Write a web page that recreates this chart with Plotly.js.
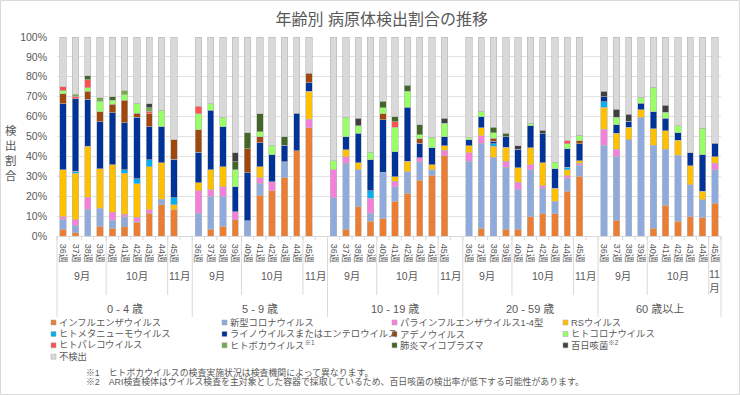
<!DOCTYPE html>
<html><head><meta charset="utf-8">
<script src="https://cdn.plot.ly/plotly-3.0.1.min.js"></script>
<style>html,body{margin:0;padding:0;background:#fff}#chart{width:740px;height:395px}</style>
</head><body><div id="chart"></div>
<script>
// ---------- categories ----------
const ageGroups = ['0 - 4 歳', '5 - 9 歳', '10 - 19 歳', '20 - 59 歳', '60 歳以上'];
const weeks = ['36週','37週','38週','39週','40週','41週','42週','43週','44週','45週'];
const monthLabels = ['9月', '10月', '11月'];
const yTickLabels = ['0%','10%','20%','30%','40%','50%','60%','70%','80%','90%','100%'];
const seriesNames = ['インフルエンザウイルス','新型コロナウイルス','パラインフルエンザウイルス1-4型','RSウイルス',
  'ヒトメタニューモウイルス','ライノウイルスまたはエンテロウイルス','アデノウイルス','ヒトコロナウイルス',
  'ヒトパレコウイルス','ヒトボカウイルス※1','肺炎マイコプラズマ','百日咳菌※2','不検出'];
const seriesColors = ['#ED7D31','#8FAADC','#F77FDC','#FFC000','#00B0F0','#003399','#9E480E','#99FF66',
  '#FF5050','#70AD47','#436629','#404040','#D9D9D9'];
const legendLabels = ['インフルエンザウイルス','新型コロナウイルス','パラインフルエンザウイルス1-4型','RSウイルス',
  'ヒトメタニューモウイルス','ライノウイルスまたはエンテロウイルス','アデノウイルス','ヒトコロナウイルス',
  'ヒトパレコウイルス','ヒトボカウイルス<sup>※1</sup>','肺炎マイコプラズマ','百日咳菌<sup>※2</sup>','不検出'];
const footnotes = ['※1　ヒトボカウイルスの検査実施状況は検査機関によって異なります。',
  '※2　ARI検査検体はウイルス検査を主対象とした容器で採取しているため、百日咳菌の検出率が低下する可能性があります。'];

// ---------- values (%), 10 weeks per age group, in ageGroups order ----------
const influenza = [3.4,1.6,0,4.9,4.0,4.7,6.8,11.4,15.6,13.1,
  0,3.4,4.9,8.2,0,20.5,22.8,29.2,42.8,54.4,
  0,3.4,14.8,7.4,8.6,17.4,21.5,27.9,30.5,40.4,
  0,3.9,0,3.4,3.4,9.6,11.1,11.1,22.5,30.0,
  0,7.9,0,0,4.0,15.4,7.4,9.6,9.1,16.4];
const covid = [5.0,3.8,13.5,8.7,4.0,5.0,0.3,0,2.9,0,
  11.4,16.6,15.1,0,7.6,6.0,0,8.2,0,0,
  19.1,33.2,18.4,4.0,23.4,7.4,10.9,9.3,2.7,0,
  37.6,42.7,39.6,31.2,20.1,23.6,12.9,6.3,6.5,5.6,
  45.6,32.0,48.3,59.7,41.6,28.2,33.2,16.1,9.0,16.8];
const parainfluenza = [1.3,2.8,6.0,0.3,3.9,1.3,2.4,1.9,0,0,
  11.4,3.2,4.8,4.0,0,2.7,4.4,0,0,4.3,
  14.1,3.3,0,7.6,0,2.7,0,2.1,0,2.6,
  4.3,3.9,0,3.0,3.5,2.7,1.3,0,1.4,1.0,
  8.1,3.7,0,0,0,0,0,0,0,3.4];
const rsv = [23.5,23.3,25.5,19.8,24.0,20.5,16.8,21.6,18.2,2.7,
  3.9,10.0,10.1,0,0,5.7,0,0,0,14.0,
  0,3.4,3.7,0,0,2.4,5.2,0,2.5,2.3,
  3.4,3.9,5.4,7.0,7.2,8.4,11.6,6.6,2.8,1.3,
  10.9,8.1,6.4,3.7,8.4,9.3,7.4,9.5,4.4,3.2];
const hmpv = [0,1.0,0,0,0,1.7,2.4,3.4,0,3.3,
  0,0,0,0,0,0,0,0,0,0,
  0,0,0,3.8,0,0,0,0,0,0,
  0,0,1.3,0,0,0,0,0,1.4,0,
  2.8,0,0,0,0,0,0,0,0,0];
const rhinoEntero = [33.2,36.5,23.8,23.8,26.0,23.6,31.0,16.5,18.3,19.5,
  15.4,30.1,20.1,12.6,24.1,11.9,13.6,8.2,18.9,4.3,
  0,6.5,14.8,15.5,26.4,12.5,27.2,7.3,8.6,4.5,
  3.0,5.5,1.4,5.2,9.3,11.2,14.4,9.7,9.2,8.4,
  2.6,4.3,3.0,3.2,8.4,6.3,3.8,6.6,18.4,6.8];
const adeno = [5.1,0,4.0,5.0,4.2,11.3,2.1,6.6,0,9.7,
  11.4,0,0,0,12.1,3.0,0,0,0,4.9,
  0,0,0,0,3.0,0,0,2.2,0,0,
  0,0,1.3,0,0,0,0,0,0,1.5,
  0,0,0,0,0,0,0,0,0,0];
const hcov = [1.5,0,1.8,5.1,2.0,3.0,5.0,0,8.1,0,
  7.9,3.1,4.7,8.4,0,2.7,4.5,0,0,0,
  4.7,9.9,3.7,3.8,3.0,12.3,8.0,2.2,5.4,6.9,
  1.2,2.9,2.8,0,0,1.2,0,3.4,2.5,2.9,
  0,3.7,0,3.2,12.4,3.0,3.6,0,13.3,0];
const parecho = [2.0,1.2,4.0,0,0,0,0,1.3,0,0,
  3.9,0,0,0,0,0,0,0,0,0,
  0,0,0,0,0,2.7,0,0,0,0,
  0,0,0,0,0,0,0,0,1.5,0,
  0,0,0,0,0,0,0,0,0,0];
const boca = [0,1.1,0,1.8,0,1.8,0,1.7,0,0,
  0,0,0,0,0,0,0,0,0,0,
  0,0,0,0,0,0,0,0,0,0,
  0,0,0,0,0,0,0,0,0,0,
  0,0,0,0,0,0,0,0,0,0];
const mycoplasma = [0,0,1.9,0,2.0,0,0,0,0,0,
  0,0,0,4.2,8.0,8.9,0,4.2,0,0,
  0,0,0,0,3.2,2.5,2.9,4.9,0,0,
  0,0,2.9,1.9,0,0,0,0,0,0,
  0,0,0,0,0,0,0,0,0,0];
const pertussis = [0,0,0,0,0,0,0,2.1,0,0,
  0,0,0,4.4,0,0,0,0,0,0,
  0,0,3.7,0,0,0,0,0,0,2.4,
  0,0,0,0,1.8,0,1.9,0,0,0,
  2.8,4.1,3.4,0,0,3.4,0,0,0,0];
const notDetected = [25.0,28.7,19.5,30.6,29.9,27.1,33.2,33.5,36.9,51.7,
  34.7,33.6,40.3,58.2,48.2,38.6,54.7,50.2,38.3,18.1,
  62.1,40.3,40.9,57.9,32.4,40.1,24.3,44.1,50.3,40.9,
  50.5,37.2,45.3,48.3,54.7,43.3,46.8,62.9,52.2,49.3,
  27.2,36.2,38.9,30.2,25.2,34.4,44.6,58.2,45.8,53.4];

// ---------- build ----------
const seriesValues = [influenza, covid, parainfluenza, rsv, hmpv, rhinoEntero, adeno, hcov,
  parecho, boca, mycoplasma, pertussis, notDetected];
const SLOTS_PER_GROUP = weeks.length + 1;          // one empty slot after each age group
const nSlots = ageGroups.length * SLOTS_PER_GROUP - 1;
const xPos = [], tickText = [];
ageGroups.forEach((g, gi) => weeks.forEach((w, wi) => { xPos.push(gi * SLOTS_PER_GROUP + wi); tickText.push(w); }));

const traces = seriesValues.map((vals, i) => ({
  type: 'bar', name: seriesNames[i], x: xPos, y: vals.map(v => v === 0 ? null : v),
  width: 0.52, showlegend: false, hoverinfo: 'skip',
  marker: { color: seriesColors[i], line: { color: '#b5b5b5', width: 0.6 } }
}));

// pixel -> paper helpers (plot area 57..721 x 37..236)
const PL = 57, PR = 721, PT = 37, PB = 236;
const xp = px => (px - PL) / (PR - PL);
const yp = py => (PB - py) / (PB - PT);
const slotPaper = s => (s + 0.5) / nSlots;   // boundary s-0.5 -> paper

const gray = '#595959', lineGray = '#d9d9d9';
const shapes = [], annotations = [];

// category boundary ticks
for (let k = 0; k <= nSlots; k++) {
  shapes.push({ type: 'line', xref: 'paper', yref: 'paper', x0: k / nSlots, x1: k / nSlots, y0: 0, y1: yp(240), line: { color: lineGray, width: 1 } });
}
// month + age dividers and labels
ageGroups.forEach((g, gi) => {
  const base = gi * SLOTS_PER_GROUP;
  [base + 3.5, base + 8.5].forEach(b => shapes.push({ type: 'line', xref: 'paper', yref: 'paper',
    x0: slotPaper(b), x1: slotPaper(b), y0: 0, y1: yp(295), line: { color: lineGray, width: 1 } }));
  shapes.push({ type: 'line', xref: 'paper', yref: 'paper', x0: slotPaper(base - 0.5), x1: slotPaper(base - 0.5),
    y0: 0, y1: yp(317), line: { color: lineGray, width: 1 } });
  const last = gi === ageGroups.length - 1;
  const monthCenters = [base + 1.5, base + 6, last ? base + 9 : base + 9.5];
  monthLabels.forEach((m, mi) => {
    const narrow = last && mi === 2;
    annotations.push({ xref: 'x', yref: 'paper', x: monthCenters[mi], y: yp(narrow ? 281 : 276), yanchor: 'middle',
      text: narrow ? m.replace('月', '<br>月') : m, showarrow: false, font: { size: 10.5, color: gray } });
  });
  const groupEnd = last ? base + 9.5 : base + 10.5;
  annotations.push({ xref: 'x', yref: 'paper', x: (base - 0.5 + groupEnd) / 2, y: yp(309), yanchor: 'middle',
    text: g, showarrow: false, font: { size: 11, color: gray } });
});
shapes.push({ type: 'line', xref: 'paper', yref: 'paper', x0: 1, x1: 1, y0: 0, y1: yp(317), line: { color: lineGray, width: 1 } });

// y title stacked
annotations.push({ xref: 'paper', yref: 'paper', x: xp(11), y: yp(153), xanchor: 'center', yanchor: 'middle',
  text: '検<br>出<br>割<br>合', showarrow: false, font: { size: 11.5, color: gray } });

// legend (custom, 4 columns)
const legCols = [51, 222, 392, 563], legRows = [322.5, 334, 345.3, 356.7];
legendLabels.forEach((lab, i) => {
  const cx = legCols[i % 4], cy = legRows[Math.floor(i / 4)];
  shapes.push({ type: 'rect', xref: 'paper', yref: 'paper', x0: xp(cx), x1: xp(cx + 5), y0: yp(cy + 2.5), y1: yp(cy - 2.5),
    fillcolor: seriesColors[i], line: { color: '#a6a6a6', width: 0.5 } });
  annotations.push({ xref: 'paper', yref: 'paper', x: xp(cx + 6), y: yp(cy), xanchor: 'left', yanchor: 'middle',
    text: lab, showarrow: false, font: { size: 9.3, color: gray } });
});
// footnotes
footnotes.forEach((t, i) => annotations.push({ xref: 'paper', yref: 'paper', x: xp(84), y: yp(372.5 + i * 9.3),
  xanchor: 'left', yanchor: 'middle', text: t, showarrow: false, font: { size: 8.9, color: gray } }));

// outer chart border
shapes.push({ type: 'rect', xref: 'paper', yref: 'paper', x0: xp(0.5), x1: xp(739.5), y0: yp(394.5), y1: yp(0.5),
  line: { color: '#d9d9d9', width: 1 }, fillcolor: 'rgba(0,0,0,0)' });

const layout = {
  width: 740, height: 395,
  margin: { l: PL, r: 740 - PR, t: PT, b: 395 - PB, pad: 0 },
  paper_bgcolor: '#fff', plot_bgcolor: '#fff',
  font: { family: 'Liberation Sans, Noto Sans CJK JP, sans-serif', color: gray },
  title: { text: '年齢別 病原体検出割合の推移', x: 0.516, xref: 'container', xanchor: 'center',
    y: 1 - 19 / 395, yref: 'container', yanchor: 'middle', font: { size: 16, color: gray } },
  barmode: 'stack',
  showlegend: false,
  xaxis: { range: [-0.5, nSlots - 0.5], tickmode: 'array', tickvals: xPos, ticktext: tickText, tickangle: 90,
    tickfont: { size: 9, color: gray }, showgrid: false, zeroline: false, showline: true,
    linecolor: lineGray, linewidth: 1, ticks: '', ticklabelstandoff: 5, fixedrange: true },
  yaxis: { range: [0, 100], tickmode: 'array', tickvals: yTickLabels.map((t, i) => i * 10), ticktext: yTickLabels,
    tickfont: { size: 10.5, color: gray }, gridcolor: '#e2e2e2', gridwidth: 1, zeroline: false,
    showline: false, ticks: '', ticklabelstandoff: 9, fixedrange: true },
  shapes: shapes, annotations: annotations
};
Plotly.newPlot('chart', traces, layout, { staticPlot: true, displayModeBar: false });
</script></body></html>
